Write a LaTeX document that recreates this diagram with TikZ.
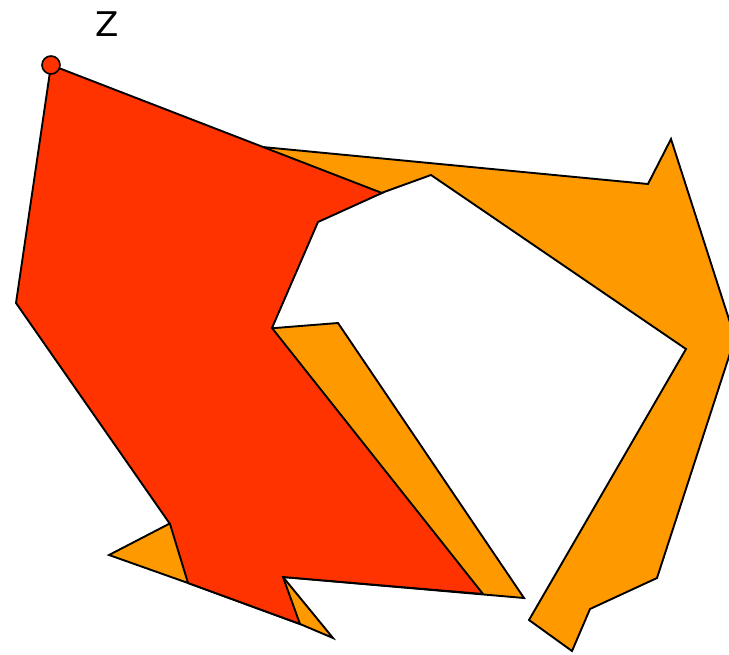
\documentclass[tikz,border=0pt]{standalone}
\usepackage{fontspec}
\setmainfont{DejaVu Sans}
\definecolor{redfill}{HTML}{FF3300}
\definecolor{orangefill}{HTML}{FF9900}
\begin{document}
\begin{tikzpicture}[x=1pt,y=-1pt,
  polyline/.style={draw=black,line width=1.9pt,line join=miter},
  zlabel/.style={font=\fontsize{34}{34}\selectfont,inner sep=0pt}]
\useasboundingbox (0,0) rectangle (729,654);
\begin{scope}
\clip (0,0) rectangle (729,654);
\path[polyline,fill=orangefill] (200,141) -- (648,184) -- (671,139) -- (735,338) -- (657,578) -- (590,609) -- (572,651) -- (529,620) -- (686,349) -- (431,175) -- (362,200) -- (230,250) -- (250,330) -- (338,323) -- (524,598) -- (283,577) -- (333,638) -- (300,624) -- (188,583) -- (109,555) -- (190,513) -- cycle;
\path[polyline,fill=redfill] (51,65) -- (382,193) -- (318,222) -- (272,328) -- (483,594) -- (283,577) -- (300,624) -- (188,583) -- (170,524) -- (16,303) -- cycle;
\end{scope}
\node[polyline,circle,fill=redfill,minimum size=18pt,inner sep=0pt,line width=1.6pt] (z) at (51,65) {};
\node[zlabel] (zl) at (107,24) {Z};
\end{tikzpicture}
\end{document}
